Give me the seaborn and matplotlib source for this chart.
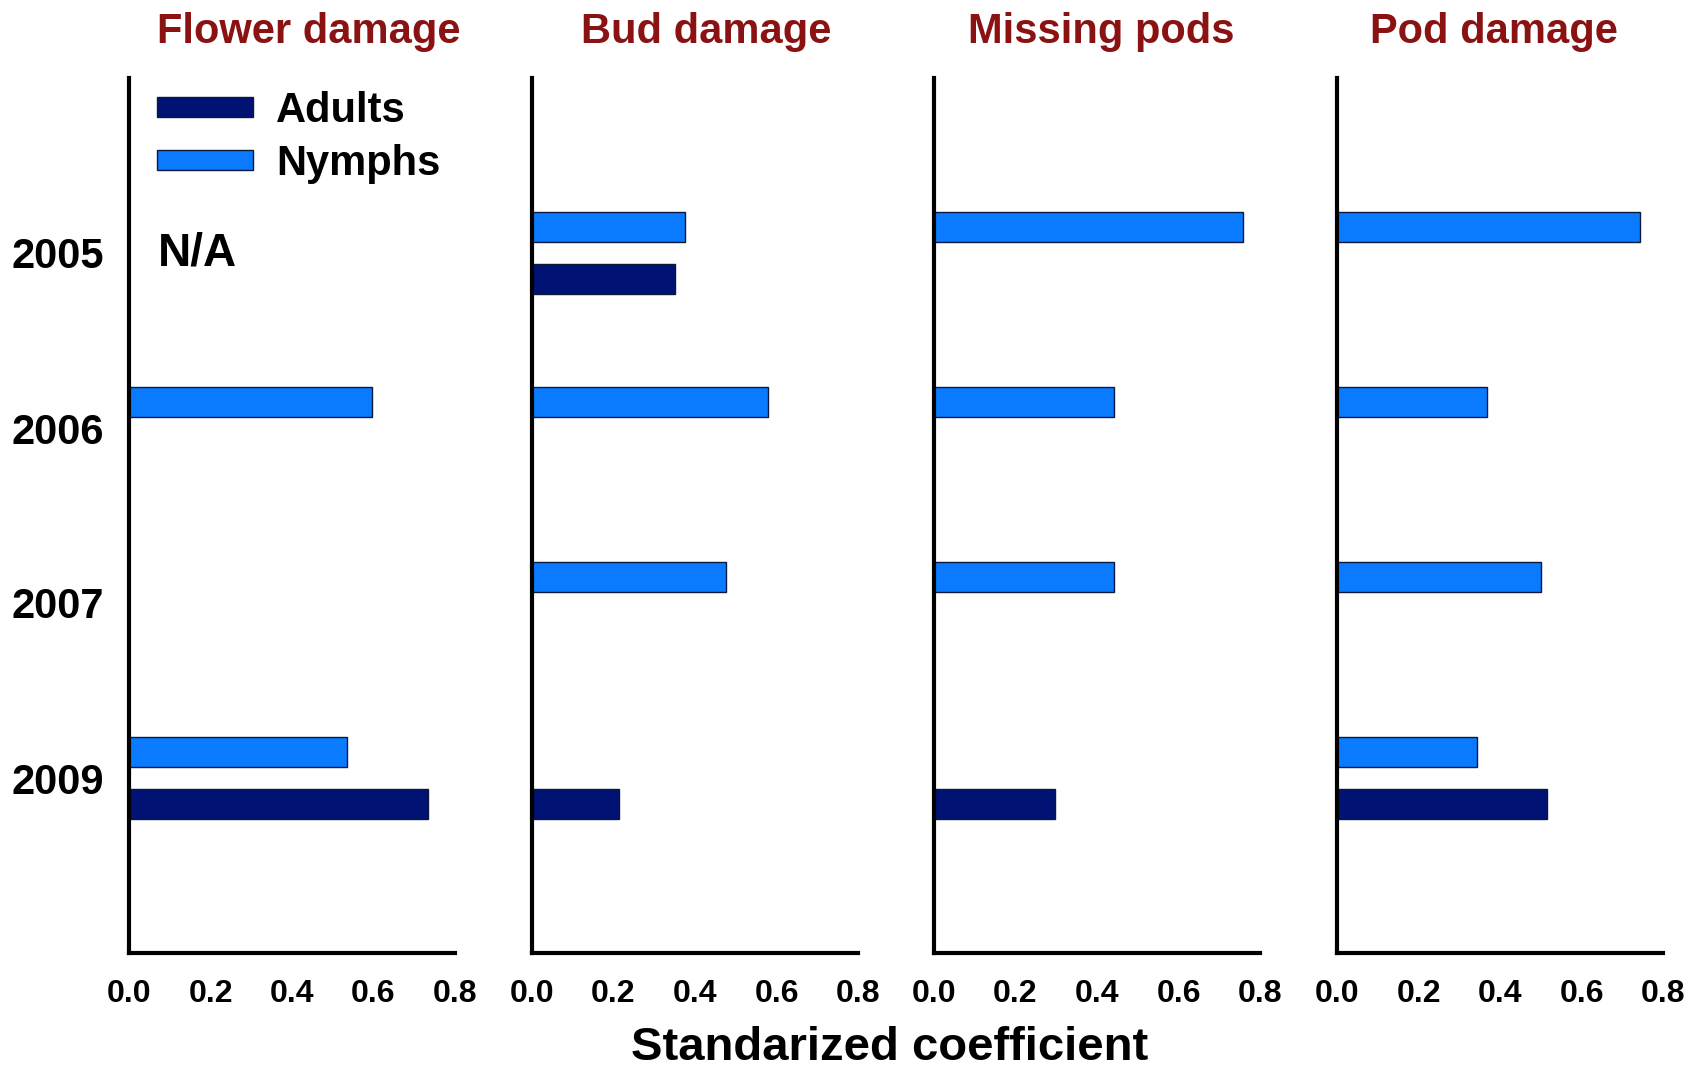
import numpy as np
import pandas as pd
import matplotlib
matplotlib.use("Agg")
import matplotlib.pyplot as plt
from matplotlib.patches import Patch
from matplotlib import font_manager
import seaborn as sns

years = ["2005", "2006", "2007", "2009"]
panels = ["Flower damage", "Bud damage", "Missing pods", "Pod damage"]
# values per panel, per year (None = no bar)
nymphs = {
    "Flower damage": [None, 0.596, None, 0.535],
    "Bud damage":    [0.375, 0.580, 0.476, None],
    "Missing pods":  [0.758, 0.441, 0.441, None],
    "Pod damage":    [0.744, 0.368, 0.501, 0.344],
}
adults = {
    "Flower damage": [None, None, None, 0.734],
    "Bud damage":    [0.351, None, None, 0.213],
    "Missing pods":  [None, None, None, 0.298],
    "Pod damage":    [None, None, None, 0.515],
}
x_ticks = [0.0, 0.2, 0.4, 0.6, 0.8]
x_tick_labels = ["0.0", "0.2", "0.4", "0.6", "0.8"]

c_adult = "#001273"
c_nymph = "#0A7BFF"
title_color = "#8B1212"

sns.set_style("white")
names = {f.name for f in font_manager.fontManager.ttflist}
main_font = "Liberation Sans" if "Liberation Sans" in names else "DejaVu Sans"
narrow_font = "Liberation Sans Narrow" if "Liberation Sans Narrow" in names else main_font
plt.rcParams["font.family"] = [main_font, "DejaVu Sans"]
plt.rcParams["text.color"] = "black"
plt.rcParams["xtick.color"] = "black"
plt.rcParams["ytick.color"] = "black"
plt.rcParams["axes.labelcolor"] = "black"

rows = []
for p in panels:
    for i, y in enumerate(years):
        if nymphs[p][i] is not None:
            rows.append((p, y, "Nymphs", nymphs[p][i]))
        if adults[p][i] is not None:
            rows.append((p, y, "Adults", adults[p][i]))
df = pd.DataFrame(rows, columns=["Panel", "Year", "Stage", "Value"])

W, H = 1698, 1076
fig = plt.figure(figsize=(W / 100, H / 100), dpi=100)
lefts = [129, 532, 934, 1337]
title_x = [0.55, 0.533, 0.513, 0.48]
aw = 326
top, bottom = 78, 953

for k, p in enumerate(panels):
    ax = fig.add_axes([lefts[k] / W, 1 - bottom / H, aw / W, (bottom - top) / H])
    sub = df[df["Panel"] == p]
    sns.barplot(data=sub, y="Year", x="Value", hue="Stage", order=years,
                hue_order=["Nymphs", "Adults"],
                palette={"Nymphs": c_nymph, "Adults": c_adult},
                orient="h", width=0.6, gap=0.43, dodge=True, saturation=1,
                edgecolor="#0b1a3a", linewidth=1, legend=False, ax=ax,
                errorbar=None)
    ax.set_xlim(0, 0.8)
    ax.set_ylim(4, -1)
    ax.set_xticks(x_ticks)
    ax.set_xticklabels(x_tick_labels, fontsize=23, fontweight="bold",
                       family=[narrow_font, "DejaVu Sans"])
    ax.tick_params(axis="x", length=8, width=3, direction="out", pad=11, color="black")
    ax.tick_params(axis="y", length=0, pad=18)
    if k == 0:
        ax.set_yticks(range(len(years)))
        ax.set_yticklabels(years, fontsize=30, fontweight="bold")
    else:
        ax.set_yticks([])
    for s in ["top", "right"]:
        ax.spines[s].set_visible(False)
    for s in ["left", "bottom"]:
        ax.spines[s].set_linewidth(3)
        ax.spines[s].set_color("black")
    ax.set_xlabel("")
    ax.set_ylabel("")
    ax.set_title(p, fontsize=30, fontweight="bold", color=title_color, pad=25,
                 x=title_x[k])
    if k == 0:
        ax.text(0.07, 0, "N/A", fontsize=33, fontweight="bold", va="center", ha="left")
        handles = [Patch(facecolor=c_adult, edgecolor="#0b1a3a", linewidth=1, label="Adults"),
                   Patch(facecolor=c_nymph, edgecolor="#0b1a3a", linewidth=1, label="Nymphs")]
        ax.legend(handles=handles, loc="upper left", bbox_to_anchor=(0.086, 0.985),
                  frameon=False, borderaxespad=0, borderpad=0,
                  handlelength=2.3, handleheight=0.36, handletextpad=0.55,
                  labelspacing=0.3, prop={"size": 30, "weight": "bold"})

fig.text(890 / W, 1 - 1048 / H, "Standarized coefficient", fontsize=34,
         fontweight="bold", ha="center", va="center")

fig.savefig("out.png", dpi=100, facecolor="white")
